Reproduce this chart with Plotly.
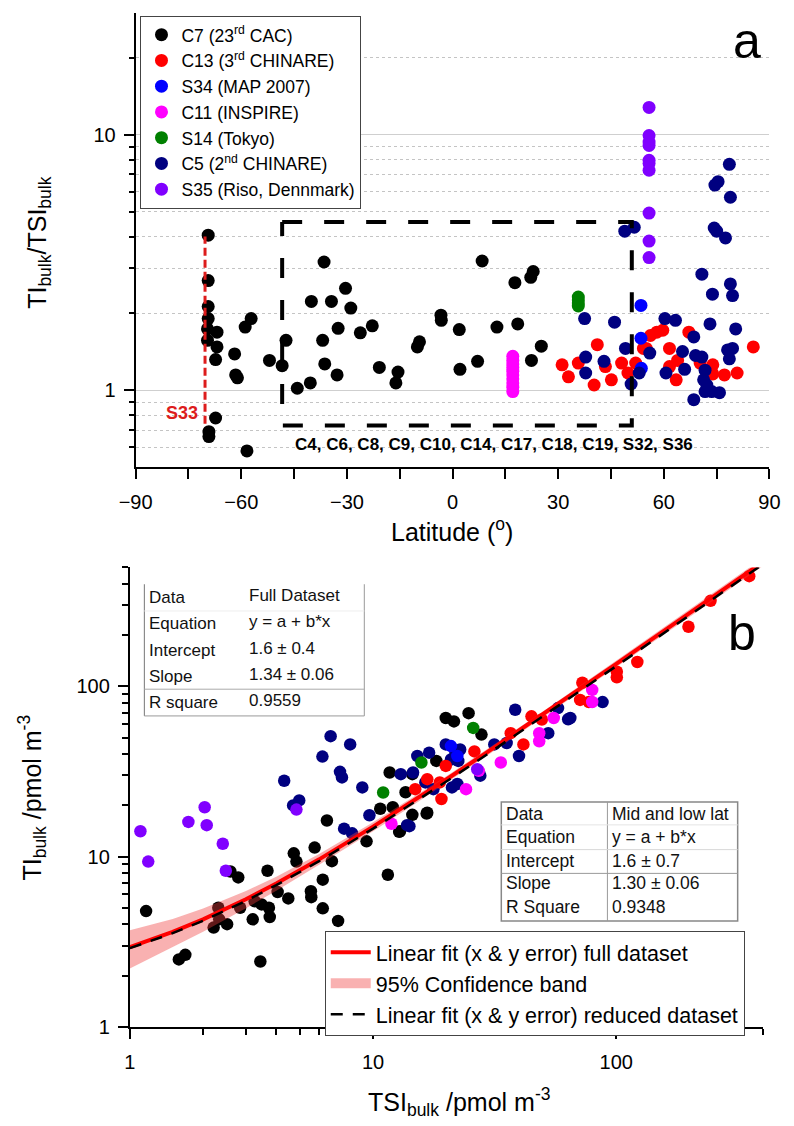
import numpy as np
import plotly.graph_objects as go

W, H = 794, 1126
FONT = "Liberation Sans, Arial, sans-serif"

# ---------------- Panel a : ratio vs latitude ----------------
c7_lat = [-69.4, -69.4, -69.4, -69.4, -69.6, -69.6, -66.9, -66.9, -67.3, -67.3, -69.2, -69.2,
          -58.4, -61.9, -61.6, -61.1, -58.9, -57.2, -52.0, -48.4, -47.3, -44.1, -40.4, -40.1,
          -36.5, -36.9, -36.3, -34.4, -32.5, -32.8, -30.4, -28.9, -26.2, -22.8, -20.8, -15.5,
          -16.1, -10.0, -9.4, -3.3, -3.2, 1.9, 2.1, 7.1, 8.4, 12.6, 17.7, 18.5, 22.2, 22.9,
          22.4, 25.2]
c7_ratio = [4.05, 2.69, 2.13, 1.91, 1.74, 1.57, 1.69, 1.48, 1.32, 0.78, 0.69, 0.66,
            0.58, 1.39, 1.15, 1.12, 1.77, 1.91, 1.31, 1.25, 1.57, 1.02, 1.07, 2.23,
            3.18, 1.57, 1.27, 2.23, 1.75, 1.15, 2.51, 2.10, 1.68, 1.79, 1.23, 1.18,
            1.07, 1.48, 1.55, 1.97, 1.88, 1.73, 1.21, 1.30, 3.21, 1.77, 2.64, 1.82, 2.77, 2.92,
            1.31, 1.49]

c13_lat = [31.1, 32.9, 35.7, 41.1, 40.2, 43.4, 45.1, 48.0, 49.8, 52.0, 54.2, 55.0, 56.2, 58.0,
           59.7, 61.6, 61.6, 63.5, 63.9, 67.1, 70.3, 73.9, 73.9, 77.2, 80.8, 85.4]
c13_ratio = [1.26, 1.13, 1.28, 1.51, 1.05, 1.24, 1.10, 1.28, 1.17, 1.28, 1.46, 1.46, 1.64, 1.69,
             1.72, 1.46, 1.24, 1.10, 1.31, 1.69, 1.28, 1.26, 1.16, 1.15, 1.17, 1.48]

s34_lat = [53.5, 53.5, 53.6]
s34_ratio = [2.15, 1.60, 1.22]

c11_lat = [17.1, 17.1, 17.1, 17.1, 17.1, 17.1, 17.1, 17.1, 17.1, 17.1]
c11_ratio = [0.99, 1.03, 1.07, 1.11, 1.15, 1.19, 1.23, 1.27, 1.31, 1.36]

s14_lat = [35.7, 35.7, 35.7, 35.7]
s14_ratio = [2.14, 2.20, 2.26, 2.32]

c5_lat = [37.5, 37.8, 37.8, 43.0, 46.0, 48.9, 51.6, 49.1, 50.7, 53.0, 56.0, 60.3, 63.3, 60.6,
          65.9, 65.3, 68.5, 68.5, 70.8, 71.7, 71.3, 71.7, 73.1, 73.8, 70.8, 74.3, 75.0, 77.5,
          74.5, 75.4, 78.6, 78.9, 78.9, 79.5, 80.4, 79.5, 78.1, 78.6, 75.8, 73.6, 72.2, 69.0]
c5_ratio = [1.91, 1.35, 1.17, 1.30, 1.85, 4.20, 4.35, 1.46, 1.06, 1.17, 1.40, 1.91, 1.88, 1.17,
            1.21, 1.42, 1.62, 0.92, 1.35, 1.20, 1.10, 0.99, 1.82, 2.38, 2.85, 4.32, 4.20, 3.95,
            6.36, 6.56, 7.67, 5.70, 2.61, 2.35, 1.74, 1.46, 1.44, 1.33, 0.98, 0.99, 1.05, 1.37]

s35_lat = [55.8] * 10
s35_ratio = [12.8, 9.94, 9.37, 9.09, 7.95, 7.72, 7.27, 4.94, 3.84, 3.31]

# S33 marker line and reduced-dataset box (data coordinates)
s33_line_lat = [-70.3, -70.3]
s33_line_ratio = [0.74, 4.0]
box_lat = [-48.4, 50.9, 50.9, -48.4, -48.4]
box_ratio = [4.56, 4.56, 0.73, 0.73, 4.56]

# ---------------- Panel b : TI vs TSI ----------------
c7_tsi = [1.166, 1.59, 1.69, 2.21, 2.31, 2.33, 2.51, 2.84, 3.2, 3.26, 3.44, 3.48, 3.73, 3.76,
          2.59, 2.79, 3.68, 4.05, 4.48, 4.72, 4.84, 5.55, 5.57, 5.75, 6.21, 6.21, 6.46, 6.77,
          7.18, 9.4, 10.7, 11.5, 12.05, 12.9, 14.5, 16.7, 13.6, 11.7, 14.5, 19.9, 21.5, 24.7,
          27.9, 18.2, 16.6, 12.8]
c7_ti = [4.79, 2.49, 2.65, 3.83, 5.01, 4.28, 4.01, 5.01, 4.28, 5.47, 2.42, 5.24, 5.01, 4.42,
         8.18, 7.55, 8.26, 6.2, 5.68, 10.45, 9.35, 6.26, 5.78, 11.3, 7.32, 4.97, 16.3, 9.4,
         4.19, 12.3, 19.1, 7.83, 19.5, 14.1, 17.6, 18.1, 23.9, 31.2, 30.5, 65.2, 62.3, 69.6,
         52.1, 36.5, 17.9, 14.0]

c5_tsi = [6.69, 8.05, 6.19, 7.31, 7.45, 4.31, 9.03, 4.69, 4.97, 9.66, 7.6, 8.2, 14.1, 13.0,
          14.6, 15.2, 17.0, 19.9, 21.8, 22.4, 27.6, 31.5, 35.4, 39.8, 38.4, 52.5, 57.6, 64.7,
          87.8, 16.4, 17.7, 21.1, 20.9, 22.8, 13.8, 22.2, 63.4]
c5_ti = [51.0, 45.6, 38.7, 31.5, 29.2, 27.9, 25.5, 20.0, 21.4, 17.5, 14.6, 13.7, 15.1, 30.5,
         31.2, 39.0, 40.8, 45.6, 40.8, 36.5, 29.9, 45.6, 46.5, 39.0, 72.9, 53.1, 74.6, 65.2,
         80.9, 27.3, 24.9, 25.5, 37.2, 42.6, 15.3, 26.7, 64.1]

c13_tsi = [352, 244, 198, 122, 100.5, 100.5, 72.5, 71.0, 77.1, 44.8, 49.4, 36.8, 41.5, 26.1,
           19.9, 18.8, 19.1, 14.9, 16.7]
c13_ti = [444, 318, 224, 139, 122, 113, 105, 83.3, 81.0, 66.7, 63.9, 53.1, 45.6, 41.5,
          34.1, 27.3, 21.8, 24.9, 28.5]

s34_tsi = [20.9, 22.2]
s34_ti = [44.6, 39.0]

c11_tsi = [79.6, 79.6, 55.3, 48.2, 48.2, 33.5, 24.1, 27.2, 11.9]
c11_ti = [95.3, 81.0, 65.2, 53.1, 47.6, 35.7, 24.9, 31.9, 15.6]

s14_tsi = [25.8, 15.8, 11.0]
s14_ti = [57.0, 35.7, 23.8]

s35_tsi = [1.105, 1.19, 1.74, 2.03, 2.07, 2.41, 2.48, 4.84, 26.8]
s35_ti = [14.1, 9.35, 16.0, 19.5, 15.3, 11.9, 8.26, 18.9, 32.6]

# fitted lines and confidence band
fit_tsi = [1, 1.5, 2, 3, 4, 6, 10, 15, 20, 30, 50, 100, 200, 400]
fit_full = [2.94, 3.61, 4.28, 5.62, 6.96, 9.64, 15.0, 21.7, 28.4, 41.8, 68.6, 135.6, 269.6, 537.6]
fit_reduced = [2.90, 3.55, 4.20, 5.50, 6.80, 9.40, 14.6, 21.1, 27.6, 40.6, 66.6, 131.6, 261.6, 521.6]
band_low = [2.20, 2.95, 3.62, 4.98, 6.30, 8.95, 14.1, 20.6, 27.1, 40.0, 65.8, 129.5, 256, 509]
band_high = [3.70, 4.30, 4.95, 6.28, 7.62, 10.35, 15.9, 22.8, 29.7, 43.6, 71.4, 141.7, 283, 566]

table1_rows = [("Data", "Full Dataset"), ("Equation", "y = a + b*x"), ("Intercept", "1.6 ± 0.4"),
               ("Slope", "1.34 ± 0.06"), ("R square", "0.9559")]
table2_rows = [("Data", "Mid and low lat"), ("Equation", "y = a + b*x"), ("Intercept", "1.6 ± 0.7"),
               ("Slope", "1.30 ± 0.06"), ("R Square", "0.9348")]

COL = dict(black="#000000", red="#ff0000", blue="#0000ff", magenta="#ff00ff",
           green="#008000", navy="#000080", violet="#8000ff")
BAND_COLOR = "rgba(240,60,60,0.4)"


def fx(px):
    return px / W


def fy(py):
    return 1 - py / H


fig = go.Figure()

series_a = [
    ("C7 (23<sup>rd</sup> CAC)", c7_lat, c7_ratio, COL["black"]),
    ("C13 (3<sup>rd</sup> CHINARE)", c13_lat, c13_ratio, COL["red"]),
    ("S34 (MAP 2007)", s34_lat, s34_ratio, COL["blue"]),
    ("C11 (INSPIRE)", c11_lat, c11_ratio, COL["magenta"]),
    ("S14 (Tokyo)", s14_lat, s14_ratio, COL["green"]),
    ("C5 (2<sup>nd</sup> CHINARE)", c5_lat, c5_ratio, COL["navy"]),
    ("S35 (Riso, Dennmark)", s35_lat, s35_ratio, COL["violet"]),
]
for rank, (name, xs, ys, c) in enumerate(series_a):
    fig.add_trace(go.Scatter(x=xs, y=ys, mode="markers", name=name, xaxis="x", yaxis="y",
                             legend="legend", legendrank=rank + 1,
                             marker=dict(color=c, size=13, line=dict(width=0))))

fig.add_trace(go.Scatter(x=s33_line_lat, y=s33_line_ratio, mode="lines", showlegend=False,
                         xaxis="x", yaxis="y", hoverinfo="skip",
                         line=dict(color="#dd1c1c", width=3, dash="8px,4px")))
fig.add_trace(go.Scatter(x=box_lat, y=box_ratio, mode="lines", showlegend=False,
                         xaxis="x", yaxis="y", hoverinfo="skip",
                         line=dict(color="#000000", width=4, dash="20px,22px")))

series_b = [
    (c7_tsi, c7_ti, COL["black"]),
    (c5_tsi, c5_ti, COL["navy"]),
    (c13_tsi, c13_ti, COL["red"]),
    (s34_tsi, s34_ti, COL["blue"]),
    (c11_tsi, c11_ti, COL["magenta"]),
    (s14_tsi, s14_ti, COL["green"]),
    (s35_tsi, s35_ti, COL["violet"]),
]
for xs, ys, c in series_b:
    fig.add_trace(go.Scatter(x=xs, y=ys, mode="markers", showlegend=False, xaxis="x2", yaxis="y2",
                             marker=dict(color=c, size=12.5, line=dict(width=0))))

fig.add_trace(go.Scatter(x=fit_tsi, y=band_low, mode="lines", showlegend=False, xaxis="x2",
                         yaxis="y2", line=dict(width=0), hoverinfo="skip"))
fig.add_trace(go.Scatter(x=fit_tsi, y=band_high, mode="lines", name="95% Confidence band",
                         showlegend=False, xaxis="x2", yaxis="y2", fill="tonexty",
                         fillcolor=BAND_COLOR, line=dict(width=0)))
# legend proxy so the band shows as a solid patch in the legend
fig.add_trace(go.Scatter(x=[None], y=[None], mode="lines", name="95% Confidence band",
                         xaxis="x2", yaxis="y2", legend="legend2", legendrank=2,
                         line=dict(color=BAND_COLOR, width=22)))
fig.add_trace(go.Scatter(x=fit_tsi, y=fit_full, mode="lines",
                         name="Linear fit (x & y error) full dataset", legend="legend2",
                         legendrank=1, xaxis="x2", yaxis="y2",
                         line=dict(color="#ff0000", width=4)))
fig.add_trace(go.Scatter(x=fit_tsi, y=fit_reduced, mode="lines",
                         name="Linear fit (x & y error) reduced dataset", legend="legend2",
                         legendrank=3, xaxis="x2", yaxis="y2",
                         line=dict(color="#000000", width=2.5, dash="12px,10px")))

# ---------------- axes ----------------
tickfont = dict(family=FONT, size=20, color="#000")
axis_common = dict(showline=True, linecolor="#000", linewidth=2, zeroline=False,
                   tickcolor="#000", tickwidth=2, tickfont=tickfont)

A_X = [fx(123), fx(780)]
A_Y = [fy(472), fy(13)]
B_X = [fx(117), fx(773)]
B_Y = [fy(1037), fy(573)]
ya_range = [np.log10(0.5), np.log10(30)]
yb_range = [0, np.log10(500)]
xb_range = [0, np.log10(400)]

lat_major = [-90, -60, -30, 0, 30, 60, 90]
lat_minor = [-75, -45, -15, 15, 45, 75]
ya_minor = [0.6, 0.7, 0.8, 0.9, 2, 3, 4, 5, 6, 7, 8, 9, 20]
logb_minor = [2, 3, 4, 5, 6, 7, 8, 9, 20, 30, 40, 50, 60, 70, 80, 90, 200, 300, 400, 500]

fig.update_layout(
    xaxis=dict(domain=A_X, anchor="y", range=[-90, 90], tickvals=lat_major, ticks="outside",
               ticklen=10, showgrid=False, ticklabelstandoff=6,
               minor=dict(tickvals=lat_minor, ticks="outside", ticklen=10, tickwidth=2,
                          tickcolor="#000"), **axis_common),
    xaxis3=dict(overlaying="x", anchor="y", side="top", range=[-90, 90], tickvals=lat_major,
                ticks="inside", ticklen=10, showticklabels=False, showgrid=False,
                minor=dict(tickvals=lat_minor, ticks="inside", ticklen=10, tickwidth=2,
                           tickcolor="#000"), **axis_common),
    yaxis=dict(domain=A_Y, anchor="x", type="log", range=ya_range, tickvals=[1, 10],
               ticktext=["1", "10"], ticks="outside", ticklen=10, ticklabelstandoff=4,
               showgrid=True, gridcolor="#cfcfcf", gridwidth=1,
               minor=dict(tickvals=ya_minor, ticks="outside", ticklen=5, tickwidth=2,
                          tickcolor="#000", showgrid=True, gridcolor="#c4c4c4",
                          griddash="dot", gridwidth=1), **axis_common),
    yaxis3=dict(overlaying="y", anchor="x", side="right", type="log", range=ya_range,
                tickvals=[1, 10], ticks="inside", ticklen=10, showticklabels=False,
                showgrid=False,
                minor=dict(tickvals=ya_minor, ticks="inside", ticklen=5, tickwidth=2,
                           tickcolor="#000"), **axis_common),
    xaxis2=dict(domain=B_X, anchor="y2", type="log", range=xb_range, tickvals=[1, 10, 100],
                ticktext=["1", "10", "100"], ticks="outside", ticklen=10, showgrid=False,
                ticklabelstandoff=6,
                minor=dict(tickvals=logb_minor, ticks="outside", ticklen=6, tickwidth=2,
                           tickcolor="#000"), **axis_common),
    xaxis4=dict(overlaying="x2", anchor="y2", side="top", type="log", range=xb_range,
                tickvals=[1, 10, 100], ticks="inside", ticklen=10, showticklabels=False,
                showgrid=False,
                minor=dict(tickvals=logb_minor, ticks="inside", ticklen=6, tickwidth=2,
                           tickcolor="#000"), **axis_common),
    yaxis2=dict(domain=B_Y, anchor="x2", type="log", range=yb_range, tickvals=[1, 10, 100],
                ticktext=["1", "10", "100"], ticks="outside", ticklen=10, showgrid=False,
                ticklabelstandoff=4,
                minor=dict(tickvals=logb_minor, ticks="outside", ticklen=6, tickwidth=2,
                           tickcolor="#000"), **axis_common),
    yaxis4=dict(overlaying="y2", anchor="x2", side="right", type="log", range=yb_range,
                tickvals=[1, 10, 100], ticks="inside", ticklen=10, showticklabels=False,
                showgrid=False,
                minor=dict(tickvals=logb_minor, ticks="inside", ticklen=6, tickwidth=2,
                           tickcolor="#000"), **axis_common),
)

# ---------------- legends ----------------
fig.update_layout(
    legend=dict(x=fx(128), y=fy(16), xanchor="left", yanchor="top", bgcolor="#fff",
                bordercolor="#444", borderwidth=1, traceorder="normal",
                font=dict(family=FONT, size=17.5, color="#000"),
                itemwidth=30, tracegroupgap=0),
    legend2=dict(x=fx(319), y=fy(940), xanchor="left", yanchor="top", bgcolor="#fff",
                 bordercolor="#444", borderwidth=1,
                 font=dict(family=FONT, size=21.5, color="#000"),
                 itemwidth=40, tracegroupgap=0, traceorder="normal"),
)

# ---------------- annotations & tables ----------------
ann = []
shapes = []


def text(x, y, s, size, xanchor="center", **kw):
    d = dict(x=fx(x), y=fy(y), xref="paper", yref="paper", text=s, showarrow=False,
             xanchor=xanchor, yanchor="middle",
             font=dict(family=FONT, size=size, color=kw.pop("color", "#000")))
    d.update(kw)
    ann.append(d)


# axis titles
text(451, 535, "Latitude (<sup>o</sup>)", 25)
text(22, 245, "TI<sub>bulk</sub>/TSI<sub>bulk</sub>", 25, textangle=-90)
text(16, 805, "TI<sub>bulk</sub> /pmol m<sup>-3</sup>", 25, textangle=-90)
text(458, 1113, "TSI<sub>bulk</sub> /pmol m<sup>-3</sup>", 25)

# panel letters
text(757, 41, "a", 50)
text(751, 639, "b", 50)

# data-coordinate labels in panel a
ann.append(dict(x=-76.7, y=np.log10(0.817), xref="x", yref="y", text="<b>S33</b>",
                xanchor="center", yanchor="middle",
                showarrow=False, font=dict(family=FONT, size=18, color="#dd1c1c")))
ann.append(dict(x=11.7, y=np.log10(0.612), xref="x", yref="y",
                text="<b>C4, C6, C8, C9, C10, C14, C17, C18, C19, S32, S36</b>",
                xanchor="center", yanchor="middle",
                showarrow=False, font=dict(family=FONT, size=17, color="#000")))


def line(x0, y0, x1, y1, color, width=1):
    shapes.append(dict(type="line", xref="paper", yref="paper", x0=fx(x0), y0=fy(y0),
                       x1=fx(x1), y1=fy(y1), line=dict(color=color, width=width)))


# table 1 (full dataset)
t1_l, t1_r, t1_t, t1_b = 132, 360, 590, 723
line(t1_l, t1_t, t1_l, t1_b, "#777")
line(t1_r, t1_t, t1_r, t1_b, "#999")
line(t1_l, t1_b, t1_r, t1_b, "#999")
line(t1_l, 696, t1_r, 696, "#aaa")
line(t1_l, 617, t1_r, 617, "#eee")
t1_rows_y = [603, 630, 657, 683, 709]
for (a, b), yy in zip(table1_rows, t1_rows_y):
    text(135, yy, a, 17, xanchor="left", color="#111")
    text(238, yy - 2, b, 17, xanchor="left", color="#111")

# table 2 (mid and low lat)
t2_l, t2_r, t2_t, t2_b, t2_c = 502, 747, 810, 930, 612
shapes.append(dict(type="rect", xref="paper", yref="paper", x0=fx(t2_l), x1=fx(t2_r),
                   y0=fy(t2_b), y1=fy(t2_t), line=dict(color="#888", width=1.5)))
line(t2_c, t2_t, t2_c, t2_b, "#999")
line(t2_l, 833, t2_r, 833, "#e4e4e4")
line(t2_l, 858, t2_r, 858, "#d8d8d8")
line(t2_l, 882, t2_r, 882, "#999")
t2_rows_y = [822, 845, 869, 892, 916]
for (a, b), yy in zip(table2_rows, t2_rows_y):
    text(505, yy, a, 17.5, xanchor="left", color="#111")
    text(615, yy, b, 17.5, xanchor="left", color="#111")

fig.update_layout(annotations=ann, shapes=shapes)

fig.update_layout(width=W, height=H, margin=dict(l=0, r=0, t=0, b=0),
                  paper_bgcolor="#fff", plot_bgcolor="rgba(0,0,0,0)",
                  font=dict(family=FONT, color="#000"))

fig.write_html("out.html", include_plotlyjs=True, config={"displayModeBar": False})
